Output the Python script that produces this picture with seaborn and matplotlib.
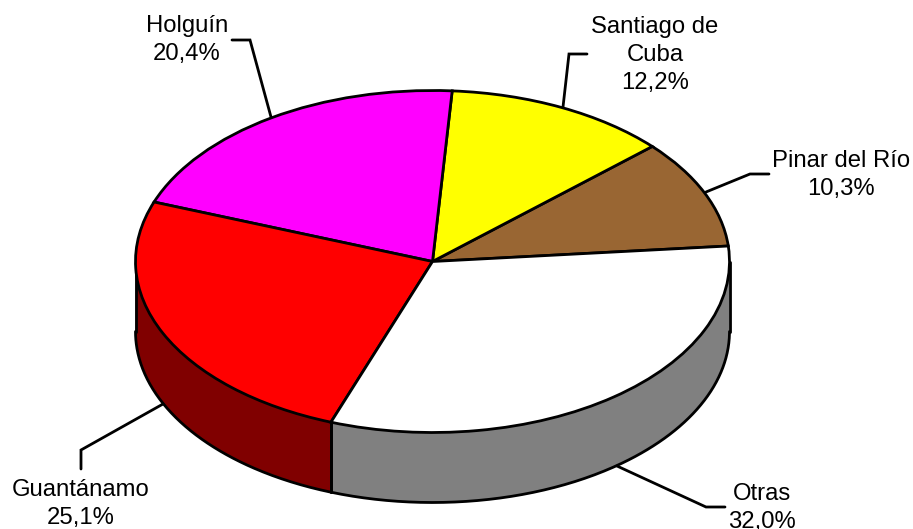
import numpy as np
import matplotlib
matplotlib.use("Agg")
import matplotlib.pyplot as plt
import matplotlib.transforms as mtransforms
import seaborn as sns

labels = ["Pinar del Río", "Santiago de\nCuba", "Holguín", "Guantánamo", "Otras"]
values = [10.3, 12.2, 20.4, 25.1, 32.0]
top_colors = ["#996633", "#FFFF00", "#FF00FF", "#FF0000", "#FFFFFF"]
side_colors = ["#4D3319", "#808000", "#800080", "#800000", "#808080"]

W, H = 913, 529
CX, CY, RX, RY, DEPTH = 432.5, 261.5, 297.0, 171.0, 70.0
START = 5.2
LW = 2.0

sns.set_theme(style="white")
plt.rcParams["font.family"] = ["Liberation Sans", "DejaVu Sans"]

fig = plt.figure(figsize=(W / 100, H / 100), dpi=100, facecolor="white")
ax = fig.add_axes([0, 0, 1, 1])

ax.pie(values, colors=top_colors, startangle=START, counterclock=True,
       radius=1, wedgeprops=dict(edgecolor="black", linewidth=LW, zorder=3))
for w in ax.patches:
    w.set_zorder(3)
ax.set_aspect("auto")
ax.set_xlim(-CX / RX, (W - CX) / RX)
ax.set_ylim((CY - H) / RY, CY / RY)
ax.axis("off")

# side wall: the visible (front) half of the rim, split at the slice boundaries
d = DEPTH / RY
edges = START + 3.6 * np.cumsum([0] + values)
for a0, a1, c in zip(edges[:-1], edges[1:], side_colors):
    for shift in (0, 360):
        lo, hi = max(a0 + shift, 180), min(a1 + shift, 360)
        if hi <= lo:
            continue
        t = np.radians(np.linspace(lo, hi, 200))
        ax.fill_between(np.cos(t), np.sin(t), np.sin(t) - d, facecolor=c,
                        edgecolor="none", zorder=1)
        ax.plot(np.cos(t), np.sin(t) - d, color="black", lw=LW, zorder=2)
        for e in (lo, hi):
            ax.plot([np.cos(np.radians(e))] * 2,
                    [np.sin(np.radians(e)), np.sin(np.radians(e)) - d],
                    color="black", lw=LW, zorder=2)

# labels and leaders, placed in image pixels
px = mtransforms.Affine2D().scale(1 / W, -1 / H).translate(0, 1) + fig.transFigure
label_pos = [(841, 175), (655, 55), (187, 40), (81, 504), (762, 508)]
leaders = [
    [(769, 174), (750, 174), (706, 192)],
    [(587, 54), (569, 54), (563, 107)],
    [(232, 40), (250, 40), (271, 117)],
    [(81, 469), (81, 450), (163, 404)],
    [(725, 507), (706, 507), (617, 466)],
]
for name, v, pos, line in zip(labels, values, label_pos, leaders):
    txt = f"{name}\n{v:.1f}%".replace(".", ",")
    ax.text(pos[0], pos[1], txt, transform=px, ha="center", va="center",
            fontsize=17.2, color="black", linespacing=1.37, clip_on=False, zorder=5)
    xs, ys = zip(*line)
    ax.plot(xs, ys, transform=px, color="black", lw=LW, zorder=2,
            solid_joinstyle="miter", clip_on=False)

fig.savefig("out.png", dpi=100)
